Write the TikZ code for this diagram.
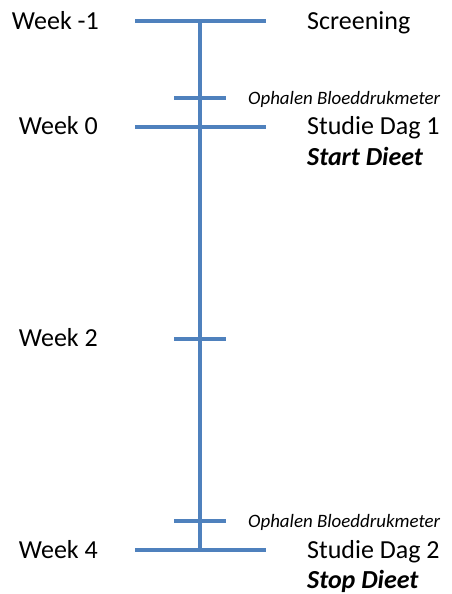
\documentclass[tikz,border=0pt]{standalone}
\usepackage{fontspec}
\setmainfont{Carlito}
\definecolor{lijnblauw}{HTML}{4F81BD}
\begin{document}
\begin{tikzpicture}[x=1pt,y=-1pt,
		lijn/.style={draw=lijnblauw,line width=3.4pt},
		week/.style={anchor=base east,inner sep=0pt,font=\fontsize{26}{30}\selectfont},
		info/.style={anchor=base west,inner sep=0pt,font=\fontsize{26}{30}\selectfont},
		klein/.style={anchor=base west,inner sep=0pt,font=\fontsize{18.9}{22}\selectfont\itshape}]
	\useasboundingbox (0,0) rectangle (451,594);
	% as en streepjes
	\coordinate (top) at (200,21);
	\coordinate (bodem) at (200,550);
	\coordinate (a1) at (135,21);   \coordinate (a2) at (266,21);
	\coordinate (b1) at (174,98);   \coordinate (b2) at (226,98);
	\coordinate (c1) at (135,127);  \coordinate (c2) at (266,127);
	\coordinate (d1) at (174,339);  \coordinate (d2) at (226,339);
	\coordinate (e1) at (174,521);  \coordinate (e2) at (226,521);
	\coordinate (f1) at (135,550);  \coordinate (f2) at (266,550);
	\draw[lijn] (top)--(bodem);
	\draw[lijn] (a1)--(a2)  (b1)--(b2)  (c1)--(c2)  (d1)--(d2)  (e1)--(e2)  (f1)--(f2);
	% links
	\node[week] (wmin1) at (99,29.5) {Week -1};
	\node[week] (w0) at (98,134.5) {Week 0};
	\node[week] (w2) at (98,346.5) {Week 2};
	\node[week] (w4) at (98,558.5) {Week 4};
	% rechts
	\node[info] (scr) at (307,29.5) {Screening};
	\node[klein] (oph1) at (248,104.5) {Ophalen Bloeddrukmeter};
	\node[info] (dag1) at (307,134.5) {Studie Dag 1};
	\node[info,font=\fontsize{26}{30}\selectfont\bfseries\itshape] (start) at (307,165.5) {Start Dieet};
	\node[klein] (oph2) at (248,527.5) {Ophalen Bloeddrukmeter};
	\node[info] (dag2) at (307,558.5) {Studie Dag 2};
	\node[info,font=\fontsize{26}{30}\selectfont\bfseries\itshape] (stop) at (307,588.5) {Stop Dieet};
\end{tikzpicture}
\end{document}
